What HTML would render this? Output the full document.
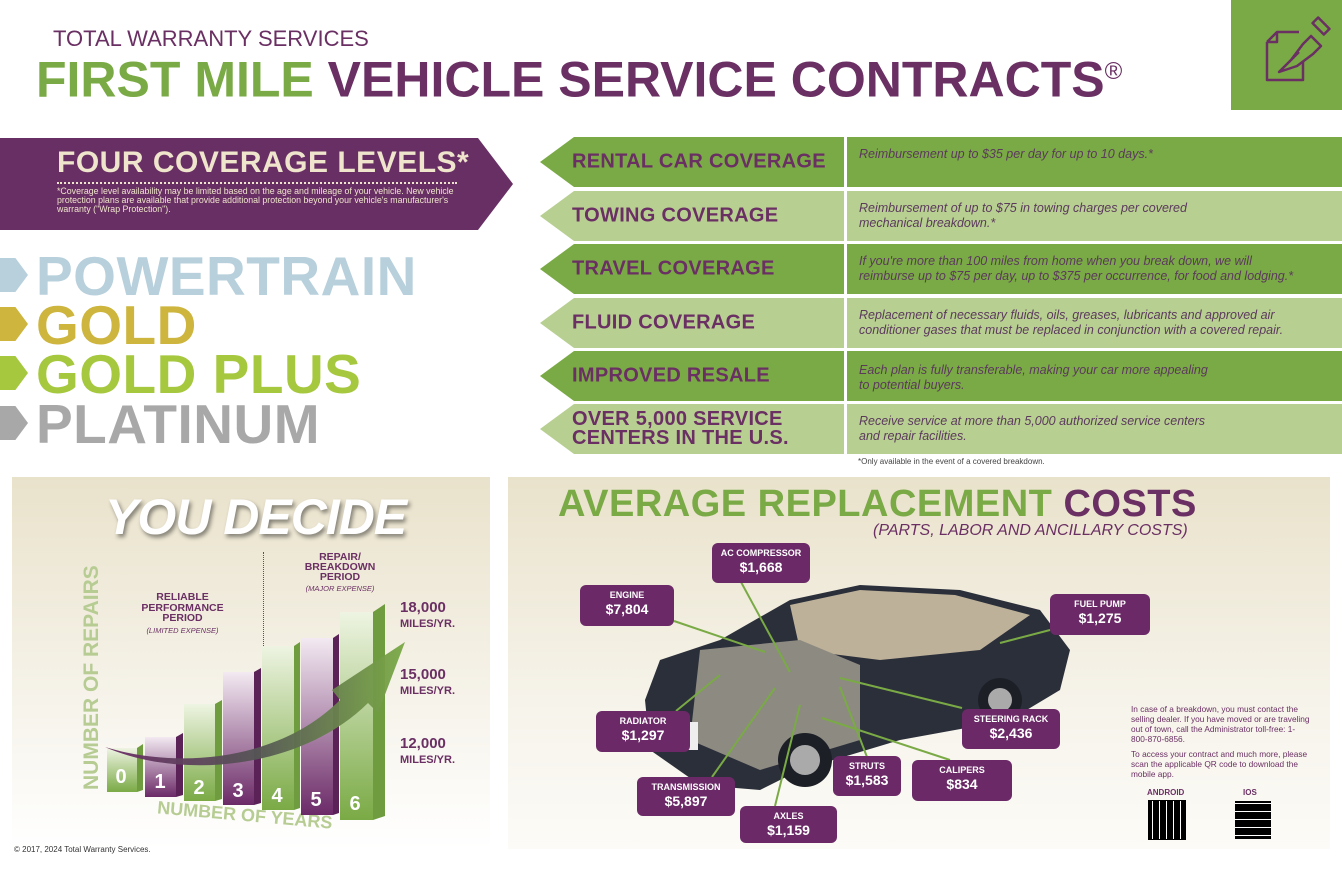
<!DOCTYPE html>
<html><head><meta charset="utf-8"><style>
*{margin:0;padding:0;box-sizing:border-box}
body{width:1342px;height:869px;background:#fff;position:relative;overflow:hidden;font-family:"Liberation Sans",sans-serif;color:#6a2f63}
.a{position:absolute}
.b{font-weight:bold}
.row{position:absolute;left:540px;width:802px;height:50px}
.arw{position:absolute;left:0;top:0;width:304px;height:100%;clip-path:polygon(34px 0,100% 0,100% 100%,34px 100%,0 50%);}
.arw span{position:absolute;left:32px;top:50%;transform:translateY(-50%);font-weight:bold;font-size:20px;letter-spacing:0.3px;color:#6a2f63;line-height:19px;white-space:nowrap}
.desc{position:absolute;left:307px;top:0;right:0;height:100%;padding:10px 12px;font-style:italic;font-size:12.5px;color:#5b3a5c;line-height:15px}
.dk{background:#7aaa45}.lt{background:#b8cf92}
.lab{position:absolute;background:#6b2a67;border-radius:6px;color:#fff;text-align:center;font-weight:bold;font-size:9px;line-height:11px;padding-top:5px}
.lab b{display:block;font-size:14px;line-height:17px}
.lvl{position:absolute;left:36px;font-weight:bold;font-size:55px;line-height:53px;letter-spacing:0.5px}
.mk{position:absolute;left:0;width:28px;height:34px;clip-path:polygon(0 0,55% 0,100% 50%,55% 100%,0 100%)}
</style></head><body>

<div class="a" style="left:53px;top:26px;font-size:22px;color:#6a2f63">TOTAL WARRANTY SERVICES</div>
<div class="a b" style="left:36px;top:44px;font-size:50px;line-height:56px;letter-spacing:0px;white-space:nowrap"><span style="color:#7aaa45">FIRST MILE</span> VEHICLE SERVICE CONTRACTS<sup style="font-size:24px;font-weight:normal">®</sup></div>
<div class="a" style="left:1231px;top:0;width:111px;height:110px;background:#7aaa45">
<svg width="111" height="110" viewBox="0 0 111 110" fill="none" stroke="#6a2f63" stroke-width="2.5" stroke-linejoin="round">
<path d="M36 42 L46 32 L68 32 M36 42 L36 80 L72 80 L72 62 M36 42 L46 42 L46 32"/>
<path d="M48 72 L60 60 L72 44 L80 36 L90 46 L82 54 L66 66 Z M60 60 L68 52"/>
<rect x="82" y="22" width="16" height="8" transform="rotate(45 90 26)"/>
</svg></div>

<!-- left banner -->
<div class="a" style="left:0;top:138px;width:513px;height:92px;background:#682f64;clip-path:polygon(0 0,478px 0,100% 50%,478px 100%,0 100%)"></div>
<div class="a b" style="left:57px;top:146px;font-size:30px;color:#efe4cc;letter-spacing:0.5px">FOUR COVERAGE LEVELS*</div>
<div class="a" style="left:57px;top:182px;width:400px;border-top:2px dotted #efe4cc"></div>
<div class="a" style="left:57px;top:187px;width:405px;font-size:8.8px;line-height:9px;color:#efe4cc">*Coverage level availability may be limited based on the age and mileage of your vehicle. New vehicle protection plans are available that provide additional protection beyond your vehicle's manufacturer's warranty ("Wrap Protection").</div>

<div class="mk" style="top:258px;background:#b7d0dc"></div><div class="lvl" style="top:250px;color:#b7d0dc">POWERTRAIN</div>
<div class="mk" style="top:307px;background:#cdb53e"></div><div class="lvl" style="top:299px;color:#cdb53e">GOLD</div>
<div class="mk" style="top:356px;background:#a6c83f"></div><div class="lvl" style="top:348px;color:#a6c83f">GOLD PLUS</div>
<div class="mk" style="top:406px;background:#a8a8a8"></div><div class="lvl" style="top:398px;color:#a8a8a8">PLATINUM</div>

<!-- rows -->
<div class="row" style="top:137px"><div class="arw dk"><span>RENTAL CAR COVERAGE</span></div><div class="desc dk">Reimbursement up to $35 per day for up to 10 days.*</div></div>
<div class="row" style="top:191px"><div class="arw lt"><span>TOWING COVERAGE</span></div><div class="desc lt">Reimbursement of up to $75 in towing charges per covered<br>mechanical breakdown.*</div></div>
<div class="row" style="top:244px"><div class="arw dk"><span>TRAVEL COVERAGE</span></div><div class="desc dk">If you're more than 100 miles from home when you break down, we will<br>reimburse up to $75 per day, up to $375 per occurrence, for food and lodging.*</div></div>
<div class="row" style="top:298px"><div class="arw lt"><span>FLUID COVERAGE</span></div><div class="desc lt">Replacement of necessary fluids, oils, greases, lubricants and approved air<br>conditioner gases that must be replaced in conjunction with a covered repair.</div></div>
<div class="row" style="top:351px"><div class="arw dk"><span>IMPROVED RESALE</span></div><div class="desc dk" style="padding-top:12px">Each plan is fully transferable, making your car more appealing<br>to potential buyers.</div></div>
<div class="row" style="top:404px"><div class="arw lt"><span>OVER 5,000 SERVICE<br>CENTERS IN THE U.S.</span></div><div class="desc lt" style="padding-top:10px">Receive service at more than 5,000 authorized service centers<br>and repair facilities.</div></div>
<div class="a" style="left:858px;top:457px;font-size:8px;color:#444">*Only available in the event of a covered breakdown.</div>

<!-- left bottom panel -->
<div class="a" style="left:12px;top:477px;width:478px;height:372px;background:linear-gradient(#e9e2cb,#f6f3ea 60%,#fff)"></div>
<div class="a b" style="left:105px;top:488px;font-size:50px;font-style:italic;color:#fff;text-shadow:2px 3px 4px rgba(0,0,0,.45);letter-spacing:-1px">YOU DECIDE</div>
<div class="a" style="left:263px;top:552px;height:102px;border-left:1px dotted #555"></div>
<div class="a b" style="left:130px;top:592px;width:105px;text-align:center;font-size:10.5px;line-height:10.5px">RELIABLE<br>PERFORMANCE<br>PERIOD<div style="font-weight:normal;font-style:italic;font-size:7.5px;margin-top:2px">(LIMITED EXPENSE)</div></div>
<div class="a b" style="left:295px;top:552px;width:90px;text-align:center;font-size:10.5px;line-height:10px">REPAIR/<br>BREAKDOWN<br>PERIOD<div style="font-weight:normal;font-style:italic;font-size:7.5px;margin-top:2px">(MAJOR EXPENSE)</div></div>
<div class="a b" style="left:80px;top:790px;transform:rotate(-90deg);transform-origin:0 0;font-size:21px;color:#b6cc93;white-space:nowrap">NUMBER OF REPAIRS</div>
<div class="a b" style="left:157px;top:805px;transform:rotate(5deg);font-size:18px;color:#b6cc93;white-space:nowrap">NUMBER OF YEARS</div>
<svg class="a" style="left:0;top:0" width="500" height="869">
<defs>
<linearGradient id="g" x1="0" y1="1" x2="0" y2="0"><stop offset="0" stop-color="#7aaa45"/><stop offset="1" stop-color="#eef4e2"/></linearGradient>
<linearGradient id="p" x1="0" y1="1" x2="0" y2="0"><stop offset="0" stop-color="#6b2a67"/><stop offset="1" stop-color="#f3eaf2"/></linearGradient>
<linearGradient id="ar" x1="0" x2="1"><stop offset="0" stop-color="#6b2a67"/><stop offset=".5" stop-color="#555"/><stop offset="1" stop-color="#7aaa45"/></linearGradient>
</defs>
<g font-family="Liberation Sans" font-weight="bold" font-size="20" fill="#fff" text-anchor="middle">
<rect x="107" y="748" width="30" height="44" fill="url(#g)"/><polygon points="137,748 143,744 143,790 137,792" fill="#6f9c3e"/><text x="121" y="783">0</text>
<rect x="145" y="737" width="31" height="60" fill="url(#p)"/><polygon points="176,737 183,733 183,795 176,797" fill="#5a2257"/><text x="160" y="788">1</text>
<rect x="184" y="704" width="31" height="97" fill="url(#g)"/><polygon points="215,704 222,700 222,799 215,801" fill="#6f9c3e"/><text x="199" y="794">2</text>
<rect x="223" y="672" width="31" height="133" fill="url(#p)"/><polygon points="254,672 261,668 261,803 254,805" fill="#5a2257"/><text x="238" y="797">3</text>
<rect x="262" y="646" width="32" height="164" fill="url(#g)"/><polygon points="294,646 300,642 300,808 294,810" fill="#6f9c3e"/><text x="277" y="802">4</text>
<rect x="301" y="638" width="32" height="177" fill="url(#p)"/><polygon points="333,638 339,634 339,813 333,815" fill="#5a2257"/><text x="316" y="806">5</text>
<rect x="340" y="612" width="33" height="208" fill="url(#g)"/><polygon points="373,612 385,604 385,816 373,820" fill="#6f9c3e"/><text x="355" y="810">6</text>
</g>
<path d="M105 747 C180 770 280 760 340 700 L332 690 L405 642 L378 713 L368 703 C300 770 180 780 105 747 Z" fill="url(#ar)" opacity=".95"/>
</svg>
<div class="a b" style="left:400px;top:600px;font-size:15px;line-height:15px">18,000<br><span style="font-size:11px">MILES/YR.</span></div>
<div class="a b" style="left:400px;top:667px;font-size:15px;line-height:15px">15,000<br><span style="font-size:11px">MILES/YR.</span></div>
<div class="a b" style="left:400px;top:736px;font-size:15px;line-height:15px">12,000<br><span style="font-size:11px">MILES/YR.</span></div>
<div class="a" style="left:14px;top:845px;font-size:8px;color:#333">© 2017, 2024 Total Warranty Services.</div>

<!-- right bottom panel -->
<div class="a" style="left:508px;top:477px;width:822px;height:372px;background:linear-gradient(#e9e2cb,#f6f3ea 60%,#fcfbf7)"></div>
<div class="a b" style="left:558px;top:483px;font-size:38px;letter-spacing:0.5px;white-space:nowrap;color:#7aaa45">AVERAGE REPLACEMENT <span style="color:#6a2f63">COSTS</span></div>
<div class="a" style="left:873px;top:522px;font-size:16px;font-style:italic;color:#6a2f63">(PARTS, LABOR AND ANCILLARY COSTS)</div>
<svg class="a" style="left:508px;top:477px" width="822" height="372">
<g transform="translate(-508,-477)">
<path d="M645 700 L660 660 L720 640 L790 600 L860 585 L960 590 L1040 610 L1070 650 L1060 690 L1010 720 L900 740 L800 770 L760 790 L700 785 L650 750 Z" fill="#2b2f3a"/>
<path d="M790 605 L860 590 L955 595 L1030 615 L980 650 L880 660 L800 650 Z" fill="#bdb199"/>
<path d="M700 650 L800 640 L860 665 L860 740 L760 770 L690 740 Z" fill="#8d8a82"/>
<circle cx="1000" cy="700" r="22" fill="#1c1f26"/><circle cx="1000" cy="700" r="12" fill="#aaa"/>
<circle cx="805" cy="760" r="27" fill="#1c1f26"/><circle cx="805" cy="760" r="15" fill="#aaa"/>
<rect x="688" y="722" width="10" height="28" fill="#eee"/>
<g stroke="#7aaa45" stroke-width="2">
<line x1="674" y1="621" x2="765" y2="652"/><line x1="741" y1="582" x2="790" y2="672"/>
<line x1="1050" y1="630" x2="1000" y2="643"/><line x1="676" y1="711" x2="720" y2="675"/>
<line x1="962" y1="708" x2="840" y2="678"/><line x1="867" y1="757" x2="840" y2="687"/>
<line x1="950" y1="760" x2="822" y2="718"/><line x1="712" y1="777" x2="775" y2="688"/>
<line x1="775" y1="806" x2="800" y2="705"/>
</g></g></svg>
<div class="lab" style="left:712px;top:543px;width:98px;height:40px">AC COMPRESSOR<b>$1,668</b></div>
<div class="lab" style="left:580px;top:585px;width:94px;height:41px">ENGINE<b>$7,804</b></div>
<div class="lab" style="left:1050px;top:594px;width:100px;height:41px">FUEL PUMP<b>$1,275</b></div>
<div class="lab" style="left:596px;top:711px;width:94px;height:41px">RADIATOR<b>$1,297</b></div>
<div class="lab" style="left:962px;top:709px;width:98px;height:40px">STEERING RACK<b>$2,436</b></div>
<div class="lab" style="left:833px;top:756px;width:68px;height:40px">STRUTS<b>$1,583</b></div>
<div class="lab" style="left:912px;top:760px;width:100px;height:41px">CALIPERS<b>$834</b></div>
<div class="lab" style="left:637px;top:777px;width:98px;height:39px">TRANSMISSION<b>$5,897</b></div>
<div class="lab" style="left:740px;top:806px;width:97px;height:37px">AXLES<b>$1,159</b></div>

<div class="a" style="left:1131px;top:704px;width:180px;font-size:8.3px;line-height:10px;color:#6a2f63">In case of a breakdown, you must contact the selling dealer. If you have moved or are traveling out of town, call the Administrator toll-free: 1-800-870-6856.<div style="margin-top:5px">To access your contract and much more, please scan the applicable QR code to download the mobile app.</div></div>
<div class="a b" style="left:1147px;top:788px;font-size:8px">ANDROID</div>
<div class="a b" style="left:1243px;top:788px;font-size:8px">IOS</div>
<div class="a" style="left:1149px;top:801px;width:36px;height:38px;background:repeating-linear-gradient(90deg,#000 0 3px,#fff 3px 4px,#000 4px 7px),#000;outline:1px solid #000"></div>
<div class="a" style="left:1235px;top:801px;width:36px;height:38px;background:repeating-linear-gradient(0deg,#000 0 3px,#fff 3px 4px,#000 4px 8px)"></div>
</body></html>
